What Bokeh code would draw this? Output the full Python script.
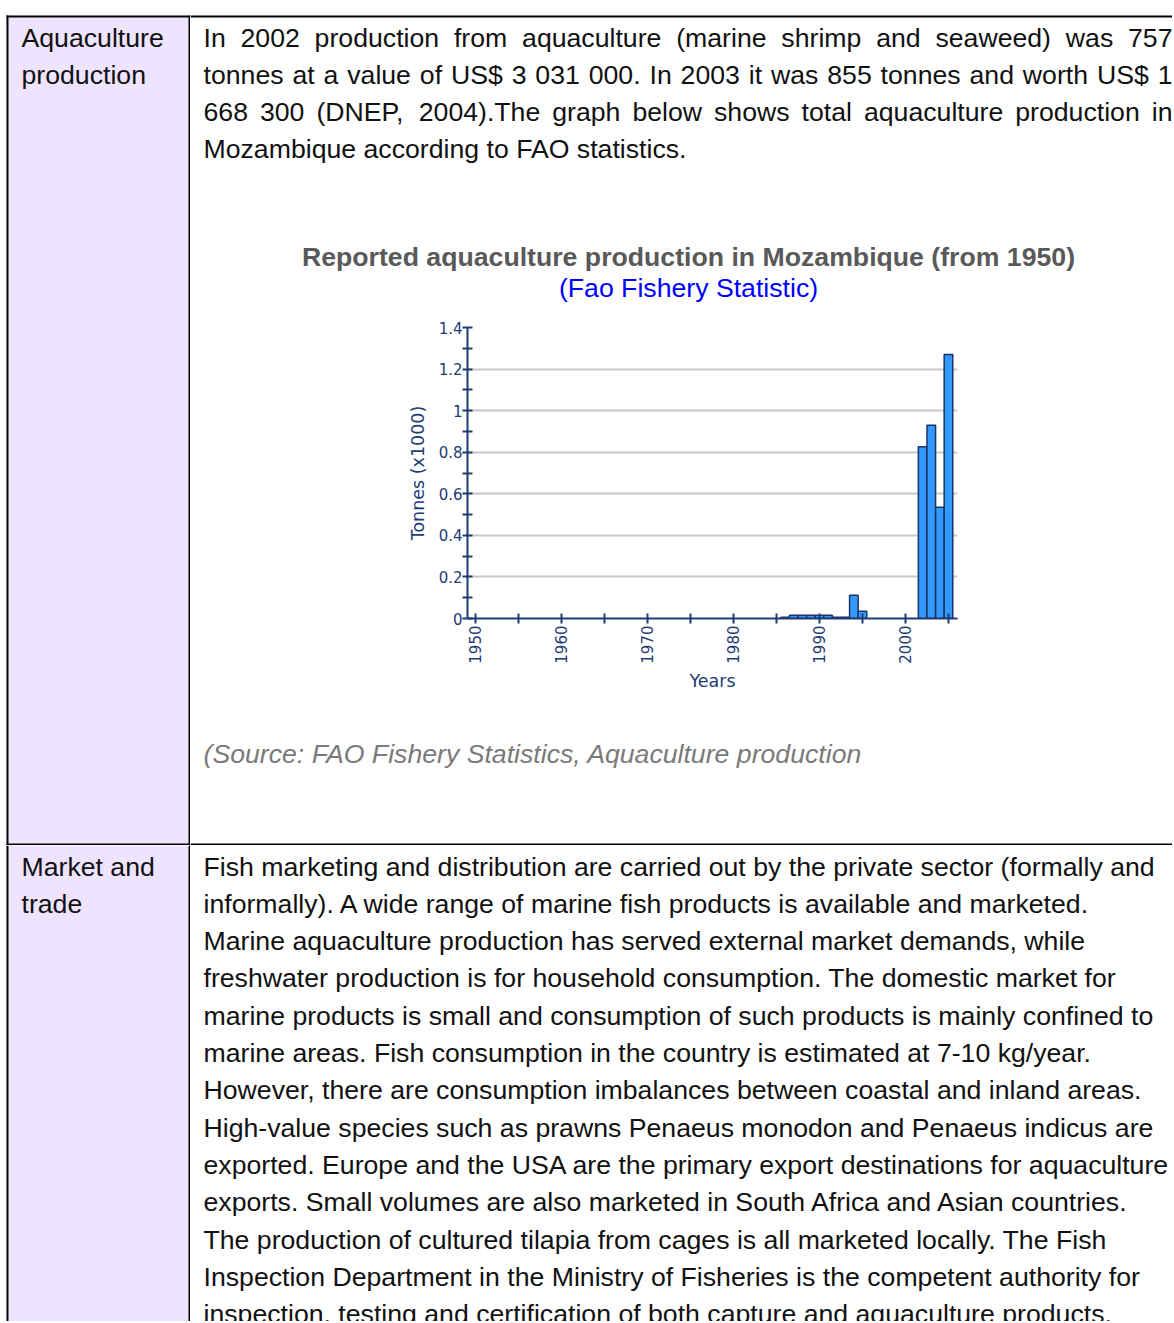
import math
from bokeh.plotting import figure
from bokeh.layouts import row, column
from bokeh.models import Range1d, FixedTicker
from bokeh.core.properties import value
from bokeh.embed import file_html
from bokeh.resources import INLINE

# ---------------- chart data ----------------
years = [1986, 1987, 1988, 1989, 1990, 1991, 1992, 1993, 1994, 1995, 2002, 2003, 2004, 2005]
production_k_tonnes = [0.006, 0.016, 0.016, 0.016, 0.016, 0.016, 0.006, 0.006, 0.112, 0.035,
                       0.826, 0.930, 0.535, 1.270]
x_tick_years = [1950, 1955, 1960, 1965, 1970, 1975, 1980, 1985, 1990, 1995, 2000, 2005]
x_tick_labels = ["1950", "", "1960", "", "1970", "", "1980", "", "1990", "", "2000", ""]
y_tick_values = [0, 0.2, 0.4, 0.6, 0.8, 1.0, 1.2, 1.4]
y_tick_labels = ["0", "0.2", "0.4", "0.6", "0.8", "1", "1.2", "1.4"]
y_minor_values = [0.1, 0.3, 0.5, 0.7, 0.9, 1.1, 1.3]

chart_title = "Reported aquaculture production in Mozambique (from 1950)"
chart_subtitle = "(Fao Fishery Statistic)"
y_axis_title = "Tonnes (x1000)"
x_axis_title = "Years"

# ---------------- page text ----------------
row1_label = ["Aquaculture", "production"]
row1_text = [
    "In 2002 production from aquaculture (marine shrimp and seaweed) was 757",
    "tonnes at a value of US$ 3 031 000. In 2003 it was 855 tonnes and worth US$ 1",
    "668 300 (DNEP, 2004).The graph below shows total aquaculture production in",
    "Mozambique according to FAO statistics.",
]
row1_justified = [True, True, True, False]
source_text = "(Source: FAO Fishery Statistics, Aquaculture production"
row2_label = ["Market and", "trade"]
row2_text = [
    "Fish marketing and distribution are carried out by the private sector (formally and",
    "informally). A wide range of marine fish products is available and marketed.",
    "Marine aquaculture production has served external market demands, while",
    "freshwater production is for household consumption. The domestic market for",
    "marine products is small and consumption of such products is mainly confined to",
    "marine areas. Fish consumption in the country is estimated at 7-10 kg/year.",
    "However, there are consumption imbalances between coastal and inland areas.",
    "High-value species such as prawns Penaeus monodon and Penaeus indicus are",
    "exported. Europe and the USA are the primary export destinations for aquaculture",
    "exports. Small volumes are also marketed in South Africa and Asian countries.",
    "The production of cultured tilapia from cages is all marketed locally. The Fish",
    "Inspection Department in the Ministry of Fisheries is the competent authority for",
    "inspection, testing and certification of both capture and aquaculture products.",
]

# ---------------- styles ----------------
FONT = "Liberation Sans"
FS = 26.67
TEXT_COLOR = "#111111"
LAVENDER = "#EFE4FF"
NAVY = "#1F3B73"
PAGE_W, PAGE_H = 1172, 1321
COL_X = 190

# Helvetica/Arial advance widths (1/1000 em) used to justify lines
_W = {' ': 278, '!': 278, '"': 355, '#': 556, '$': 556, '%': 889, '&': 667, "'": 191,
      '(': 333, ')': 333, '*': 389, '+': 584, ',': 278, '-': 333, '.': 278, '/': 278,
      ':': 278, ';': 278, '?': 556, '@': 1015}
for _c in "0123456789":
    _W[_c] = 556
_W.update(dict(zip("ABCDEFGHIJKLMNOPQRSTUVWXYZ",
                   [667, 667, 722, 722, 667, 611, 778, 722, 278, 500, 667, 556, 833, 722, 778,
                    667, 778, 722, 667, 611, 722, 667, 944, 667, 667, 611])))
_W.update(dict(zip("abcdefghijklmnopqrstuvwxyz",
                   [556, 556, 500, 556, 556, 278, 556, 556, 222, 222, 500, 222, 833, 556, 556,
                    556, 556, 333, 500, 278, 556, 500, 722, 500, 500, 500])))


def text_width(s, size):
    return sum(_W.get(c, 556) for c in s) / 1000.0 * size


def layout_line(line, x_left, x_right, size, justify):
    if not justify:
        return [x_left], [line]
    words = line.split(" ")
    ws = [text_width(w, size) for w in words]
    gap = (x_right - x_left - sum(ws)) / (len(words) - 1)
    xs, x = [], x_left
    for w in ws:
        xs.append(x)
        x += w + gap
    return xs, words


def canvas(x0, y0, w, h):
    p = figure(width=w, height=h, x_range=Range1d(x0, x0 + w), y_range=Range1d(y0 + h, y0),
               output_backend="svg", toolbar_location=None, title=None, min_border=0,
               x_axis_location=None, y_axis_location=None, tools="")
    p.frame_align = False
    p.grid.visible = False
    p.outline_line_color = None
    p.background_fill_color = "white"
    p.border_fill_color = "white"
    return p


def rect(p, l, r, t, b, color):
    p.quad(left=[l], right=[r], top=[t], bottom=[b], fill_color=color, line_color=None)


def write(p, xs, ys, texts, color=TEXT_COLOR, size=FS, style="normal", align="left"):
    p.text(x=xs, y=ys, text=texts, text_font=value(FONT), text_font_size=f"{size}px",
           text_color=color, text_baseline="middle", text_align=align,
           text_font_style=style)


LINE_H = 37.33
TOP_B, ROW_SEP = 15, 843
LEFT_B = 6
ROW1_H = 845
RIGHT_W = PAGE_W - COL_X

# ---------- row 1 left cell ----------
L1 = canvas(0, 0, COL_X, ROW1_H)
rect(L1, LEFT_B + 2, 188, TOP_B + 2, ROW_SEP, LAVENDER)
rect(L1, LEFT_B, COL_X, TOP_B, TOP_B + 2, "black")
rect(L1, LEFT_B, LEFT_B + 2, TOP_B, ROW1_H, "black")
rect(L1, 188, COL_X, TOP_B, ROW1_H, "black")
rect(L1, LEFT_B, COL_X, ROW_SEP, ROW_SEP + 2, "black")
write(L1, [21] * len(row1_label), [37 + LINE_H * i for i in range(len(row1_label))], row1_label)

# ---------- row 1 right cell: text + titles ----------
R1a = canvas(COL_X, 0, RIGHT_W, 310)
rect(R1a, COL_X, PAGE_W, TOP_B, TOP_B + 2, "black")
xs_all, ys_all, tx_all = [], [], []
for i, (line, just) in enumerate(zip(row1_text, row1_justified)):
    xs, ws = layout_line(line, 203, 1172, FS, just)
    xs_all += xs
    tx_all += ws
    ys_all += [37 + LINE_H * i] * len(ws)
write(R1a, xs_all, ys_all, tx_all)
write(R1a, [688], [256], [chart_title], color="#595959", style="bold", align="center")
write(R1a, [688], [287], [chart_subtitle], color="#0000FF", align="center")

# ---------- chart ----------
chart = figure(width=RIGHT_W, height=390, x_range=Range1d(1949.07, 2006.05), y_range=Range1d(0, 1.4),
               output_backend="svg", toolbar_location=None, title=None, tools="",
               min_border_left=467 - COL_X, min_border_right=PAGE_W - 957,
               min_border_top=17, min_border_bottom=82)
chart.frame_align = False
chart.outline_line_color = None
chart.background_fill_color = "white"
chart.border_fill_color = "white"
chart.vbar(x=years, top=production_k_tonnes, width=1.0, bottom=0,
           fill_color="#3399FF", line_color="#1B3466", line_width=1.5)

xt = FixedTicker(ticks=x_tick_years)
yt = FixedTicker(ticks=y_tick_values, minor_ticks=y_minor_values)
chart.xaxis.ticker = xt
chart.yaxis.ticker = yt
chart.ygrid.ticker = yt
chart.xgrid.visible = False
chart.ygrid.grid_line_color = "#C8C8C8"
chart.ygrid.grid_line_width = 2
chart.xaxis.major_label_overrides = dict(zip(x_tick_years, x_tick_labels))
chart.yaxis.major_label_overrides = dict(zip(y_tick_values, y_tick_labels))
chart.xaxis.major_label_orientation = math.pi / 2

for ax in (chart.xaxis[0], chart.yaxis[0]):
    ax.axis_line_color = NAVY
    ax.axis_line_width = 2
    ax.major_tick_line_color = NAVY
    ax.major_tick_line_width = 2
    ax.minor_tick_line_color = NAVY
    ax.minor_tick_line_width = 2
    ax.major_tick_in = 5
    ax.major_tick_out = 5
    ax.minor_tick_in = 5
    ax.minor_tick_out = 5
    ax.major_label_text_font = "DejaVu Sans"
    ax.major_label_text_font_size = "15px"
    ax.major_label_text_color = NAVY
    ax.axis_label_text_font = "DejaVu Sans"
    ax.axis_label_text_font_size = "17.5px"
    ax.axis_label_text_font_style = "normal"
    ax.axis_label_text_color = NAVY

chart.xaxis.major_label_standoff = 2
chart.yaxis.major_label_standoff = 0
chart.xaxis.axis_label = x_axis_title
chart.yaxis.axis_label = y_axis_title
chart.xaxis.axis_label_standoff = 4
chart.yaxis.axis_label_standoff = 8

# ---------- row 1 right cell: source ----------
R1b = canvas(COL_X, 700, RIGHT_W, ROW1_H - 700)
write(R1b, [203], [753], [source_text], color="#7A7A7A", style="italic")
rect(R1b, COL_X, PAGE_W, ROW_SEP, ROW_SEP + 2, "black")

# ---------- row 2 ----------
ROW2_H = PAGE_H - ROW1_H
L2 = canvas(0, ROW1_H, COL_X, ROW2_H)
rect(L2, LEFT_B + 2, 188, ROW1_H, PAGE_H, LAVENDER)
rect(L2, LEFT_B, LEFT_B + 2, ROW1_H, PAGE_H, "black")
rect(L2, 188, COL_X, ROW1_H, PAGE_H, "black")
write(L2, [21] * len(row2_label), [866 + LINE_H * i for i in range(len(row2_label))], row2_label)

R2 = canvas(COL_X, ROW1_H, RIGHT_W, ROW2_H)
write(R2, [203] * len(row2_text), [866 + LINE_H * i for i in range(len(row2_text))], row2_text)

page = column(
    row(L1, column(R1a, chart, R1b, spacing=0), spacing=0),
    row(L2, R2, spacing=0),
    spacing=0,
)

open("out.html", "w").write(file_html(page, INLINE))
